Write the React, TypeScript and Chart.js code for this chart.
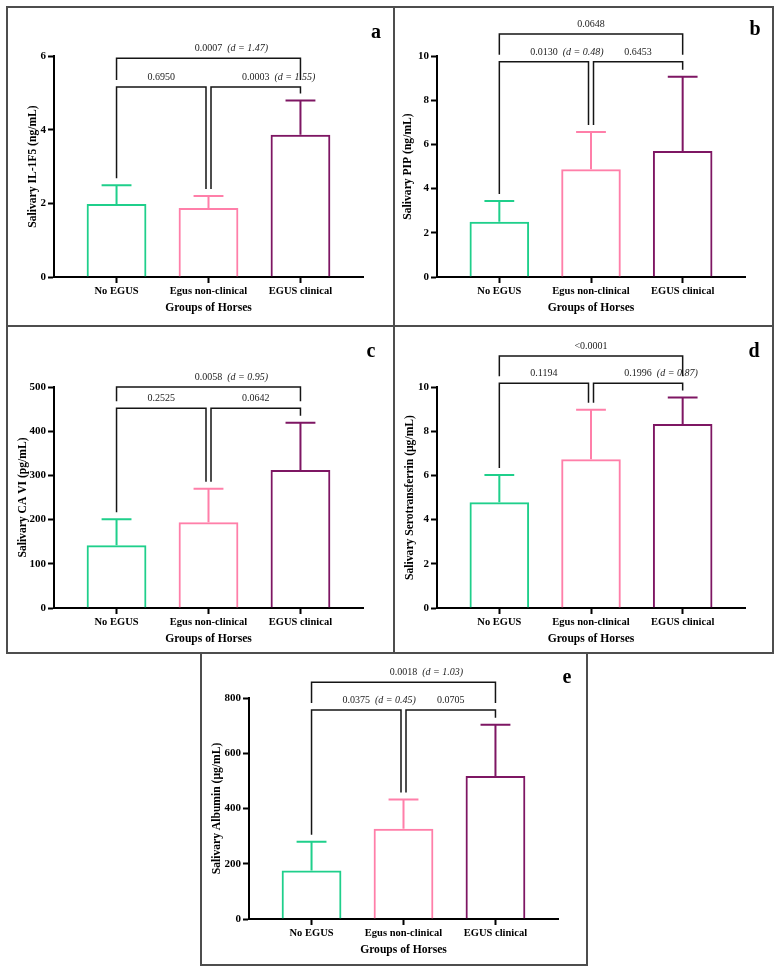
import React, { useEffect, useRef } from 'react';
import { Chart, registerables } from 'chart.js';

Chart.register(...registerables);

// ---------------- data ----------------
const groups = ['No EGUS', 'Egus non-clinical', 'EGUS clinical'];
const xTitle = 'Groups of Horses';

const il1f5Mean = [1.98, 1.87, 3.86];
const il1f5Sd = [0.51, 0.33, 0.93];
const il1f5Ticks = [0, 2, 4, 6];

const pipMean = [2.5, 4.87, 5.7];
const pipSd = [0.94, 1.69, 3.36];
const pipTicks = [0, 2, 4, 6, 8, 10];

const caviMean = [142, 194, 312];
const caviSd = [59, 76, 107];
const caviTicks = [0, 100, 200, 300, 400, 500];

const serotransferrinMean = [4.78, 6.73, 8.33];
const serotransferrinSd = [1.24, 2.24, 1.19];
const serotransferrinTicks = [0, 2, 4, 6, 8, 10];

const albuminMean = [176, 327, 518];
const albuminSd = [104, 106, 185];
const albuminTicks = [0, 200, 400, 600, 800];

type Bracket = { from: number; to: number; level: number; p: string; d?: string };

const il1f5Brackets: Bracket[] = [
  { from: 0, to: 1, level: 5.16, p: '0.6950' },
  { from: 1, to: 2, level: 5.16, p: '0.0003', d: '(d = 1.55)' },
  { from: 0, to: 2, level: 5.94, p: '0.0007', d: '(d = 1.47)' },
];
const pipBrackets: Bracket[] = [
  { from: 0, to: 1, level: 9.74, p: '0.0130', d: '(d = 0.48)' },
  { from: 1, to: 2, level: 9.74, p: '0.6453' },
  { from: 0, to: 2, level: 11.0, p: '0.0648' },
];
const caviBrackets: Bracket[] = [
  { from: 0, to: 1, level: 452, p: '0.2525' },
  { from: 1, to: 2, level: 452, p: '0.0642' },
  { from: 0, to: 2, level: 500, p: '0.0058', d: '(d = 0.95)' },
];
const serotransferrinBrackets: Bracket[] = [
  { from: 0, to: 1, level: 10.17, p: '0.1194' },
  { from: 1, to: 2, level: 10.17, p: '0.1996', d: '(d = 0.87)' },
  { from: 0, to: 2, level: 11.4, p: '<0.0001' },
];
const albuminBrackets: Bracket[] = [
  { from: 0, to: 1, level: 757, p: '0.0375', d: '(d = 0.45)' },
  { from: 1, to: 2, level: 757, p: '0.0705' },
  { from: 0, to: 2, level: 857, p: '0.0018', d: '(d = 1.03)' },
];

// ---------------- styles ----------------
const COLORS = ['#1fcf8b', '#ff7fa9', '#7e1663'];
const FONT = '"Liberation Serif", "Times New Roman", serif';

const errorBarPlugin = {
  id: 'errorBars',
  afterDatasetsDraw(chart: any, _args: any, opts: any) {
    const { ctx } = chart;
    const ys = chart.scales.y;
    const meta = chart.getDatasetMeta(0);
    ctx.save();
    ctx.lineWidth = 2;
    ctx.lineCap = 'butt';
    meta.data.forEach((bar: any, i: number) => {
      const top = ys.getPixelForValue(opts.means[i] + opts.sds[i]);
      const half = bar.width / 4;
      ctx.strokeStyle = COLORS[i];
      ctx.beginPath();
      ctx.moveTo(bar.x, bar.y);
      ctx.lineTo(bar.x, top);
      ctx.moveTo(bar.x - half, top);
      ctx.lineTo(bar.x + half, top);
      ctx.stroke();
    });
    ctx.restore();
  },
};

const bracketPlugin = {
  id: 'sigBrackets',
  afterDraw(chart: any, _args: any, opts: any) {
    const { ctx } = chart;
    const xs = chart.scales.x;
    const ys = chart.scales.y;
    const brackets: Bracket[] = opts.brackets;
    const tops: number[] = opts.means.map((m: number, i: number) => m + opts.sds[i]);
    const gap = 7;
    const split = 2.5;
    ctx.save();
    ctx.strokeStyle = '#151515';
    ctx.lineWidth = 1.5;
    ctx.lineJoin = 'miter';
    brackets.forEach((br) => {
      const same = brackets.filter((o) => o !== br && o.level === br.level);
      const ls = same.some((o) => o.to === br.from) ? split : 0;
      const rs = same.some((o) => o.from === br.to) ? -split : 0;
      const x1 = xs.getPixelForValue(br.from) + ls;
      const x2 = xs.getPixelForValue(br.to) + rs;
      const yL = ys.getPixelForValue(br.level);
      const legEnd = (g: number) => {
        let v = tops[g];
        brackets.forEach((o) => {
          if (o !== br && o.level < br.level && o.from <= g && o.to >= g) v = Math.max(v, o.level);
        });
        return ys.getPixelForValue(v) - gap;
      };
      ctx.beginPath();
      ctx.moveTo(x1, legEnd(br.from));
      ctx.lineTo(x1, yL);
      ctx.lineTo(x2, yL);
      ctx.lineTo(x2, legEnd(br.to));
      ctx.stroke();

      const cx = (x1 + x2) / 2;
      const ty = yL - 9.5;
      ctx.fillStyle = '#222';
      ctx.textBaseline = 'middle';
      ctx.font = `10px ${FONT}`;
      ctx.textAlign = 'center';
      ctx.fillText(br.p, cx, ty);
      if (br.d) {
        const w = ctx.measureText(br.p).width;
        ctx.font = `italic 10px ${FONT}`;
        ctx.textAlign = 'left';
        ctx.fillText(br.d, cx + w / 2 + 5, ty);
      }
    });
    ctx.restore();
  },
};

type PanelCfg = {
  x: number; y: number; w: number; h: number;
  yAxisW: number; padTop: number; padRight: number; xAxisH: number;
  yTitlePad: number; xTitlePad: number;
  title: string; means: number[]; sds: number[]; ticks: number[]; brackets: Bracket[];
  letter: string; lx: number; ly: number;
};

const panels: PanelCfg[] = [
  { x: 6, y: 6, w: 388, h: 320, yAxisW: 48, padTop: 50, padRight: 31, xAxisH: 49, yTitlePad: 20, xTitlePad: 11,
    title: 'Salivary IL-1F5 (ng/mL)', means: il1f5Mean, sds: il1f5Sd, ticks: il1f5Ticks, brackets: il1f5Brackets,
    letter: 'a', lx: 376, ly: 21 },
  { x: 394, y: 6, w: 380, h: 320, yAxisW: 43, padTop: 50, padRight: 29, xAxisH: 49, yTitlePad: 7, xTitlePad: 11,
    title: 'Salivary PIP (ng/mL)', means: pipMean, sds: pipSd, ticks: pipTicks, brackets: pipBrackets,
    letter: 'b', lx: 755, ly: 18 },
  { x: 6, y: 326, w: 388, h: 328, yAxisW: 48, padTop: 61, padRight: 31, xAxisH: 46, yTitlePad: 10, xTitlePad: 7.7,
    title: 'Salivary CA VI (pg/mL)', means: caviMean, sds: caviSd, ticks: caviTicks, brackets: caviBrackets,
    letter: 'c', lx: 371, ly: 340 },
  { x: 394, y: 326, w: 380, h: 328, yAxisW: 43, padTop: 61, padRight: 29, xAxisH: 46, yTitlePad: 9, xTitlePad: 7.7,
    title: 'Salivary Serotransferrin (\u03bcg/mL)', means: serotransferrinMean, sds: serotransferrinSd,
    ticks: serotransferrinTicks, brackets: serotransferrinBrackets, letter: 'd', lx: 754, ly: 340 },
  { x: 201, y: 654, w: 386, h: 311, yAxisW: 48, padTop: 44, padRight: 29, xAxisH: 46, yTitlePad: 8.7, xTitlePad: 8,
    title: 'Salivary Albumin (\u03bcg/mL)', means: albuminMean, sds: albuminSd, ticks: albuminTicks,
    brackets: albuminBrackets, letter: 'e', lx: 567, ly: 666 },
];

function Panel({ cfg }: { cfg: PanelCfg }) {
  const ref = useRef<HTMLCanvasElement>(null);
  useEffect(() => {
    if (!ref.current) return;
    const t = cfg.ticks;
    const chart = new Chart(ref.current, {
      type: 'bar',
      data: {
        datasets: [
          {
            data: cfg.means.map((m, i) => ({ x: i, y: m })),
            backgroundColor: 'rgba(255,255,255,0)',
            borderColor: COLORS,
            borderWidth: 2,
            borderSkipped: 'start',
            barPercentage: 0.65,
            categoryPercentage: 1,
          } as any,
        ],
      },
      options: {
        responsive: false,
        maintainAspectRatio: false,
        animation: false,
        events: [],
        layout: { padding: { left: 0, top: cfg.padTop, right: cfg.padRight, bottom: 0 } },
        plugins: {
          legend: { display: false },
          tooltip: { enabled: false },
          errorBars: { means: cfg.means, sds: cfg.sds },
          sigBrackets: { brackets: cfg.brackets, means: cfg.means, sds: cfg.sds },
        } as any,
        scales: {
          x: {
            type: 'linear',
            min: -0.68,
            max: 2.68,
            offset: false,
            afterBuildTicks: (s: any) => {
              s.ticks = groups.map((_, i) => ({ value: i }));
            },
            afterFit: (s: any) => {
              s.height = cfg.xAxisH;
            },
            ticks: {
              autoSkip: false,
              maxRotation: 0,
              padding: 2,
              color: '#000',
              font: { family: FONT, size: 10.5, weight: 'bold' },
              callback: (v: any) => groups[v] ?? '',
            },
            grid: { offset: false, drawOnChartArea: false, drawTicks: true, tickLength: 6, tickWidth: 2, tickColor: '#000', color: '#000' },
            border: { display: true, color: '#000', width: 2 },
            title: {
              display: true,
              text: xTitle,
              color: '#000',
              font: { family: FONT, size: 11.6, weight: 'bold' },
              padding: { top: 0, bottom: cfg.xTitlePad },
            },
          },
          y: {
            type: 'linear',
            min: t[0],
            max: t[t.length - 1],
            afterBuildTicks: (s: any) => {
              s.ticks = t.map((v) => ({ value: v }));
            },
            afterFit: (s: any) => {
              s.width = cfg.yAxisW;
            },
            ticks: {
              padding: 2,
              color: '#000',
              font: { family: FONT, size: 11, weight: 'bold' },
            },
            grid: { drawOnChartArea: false, drawTicks: true, tickLength: 6, tickWidth: 2, tickColor: '#000', color: '#000' },
            border: { display: true, color: '#000', width: 2 },
            title: {
              display: true,
              text: cfg.title,
              color: '#000',
              font: { family: FONT, size: 11.6, weight: 'bold' },
              padding: { top: cfg.yTitlePad, bottom: 0 },
            },
          },
        },
      },
      plugins: [errorBarPlugin, bracketPlugin],
    } as any);
    return () => chart.destroy();
  }, [cfg]);
  return (
    <canvas
      ref={ref}
      width={cfg.w}
      height={cfg.h}
      style={{ position: 'absolute', left: cfg.x, top: cfg.y, width: cfg.w, height: cfg.h }}
    />
  );
}

export default function App() {
  const line = '#4d4d4d';
  return (
    <div style={{ position: 'absolute', left: 0, top: 0, width: 784, height: 975, background: '#fff' }}>
      {panels.map((p) => (
        <Panel key={p.letter} cfg={p} />
      ))}
      {panels.map((p) => (
        <div
          key={'l' + p.letter}
          style={{
            position: 'absolute',
            left: p.lx - 12,
            top: p.ly,
            width: 24,
            textAlign: 'center',
            fontFamily: FONT,
            fontWeight: 'bold',
            fontSize: 20,
            lineHeight: 1,
            color: '#000',
          }}
        >
          {p.letter}
        </div>
      ))}
      <div style={{ position: 'absolute', left: 6, top: 6, width: 768, height: 648, border: `2px solid ${line}`, boxSizing: 'border-box', pointerEvents: 'none' }} />
      <div style={{ position: 'absolute', left: 393, top: 6, width: 2, height: 648, background: line }} />
      <div style={{ position: 'absolute', left: 6, top: 325, width: 768, height: 2, background: line }} />
      <div style={{ position: 'absolute', left: 200, top: 652, width: 388, height: 314, border: `2px solid ${line}`, boxSizing: 'border-box', pointerEvents: 'none' }} />
    </div>
  );
}
